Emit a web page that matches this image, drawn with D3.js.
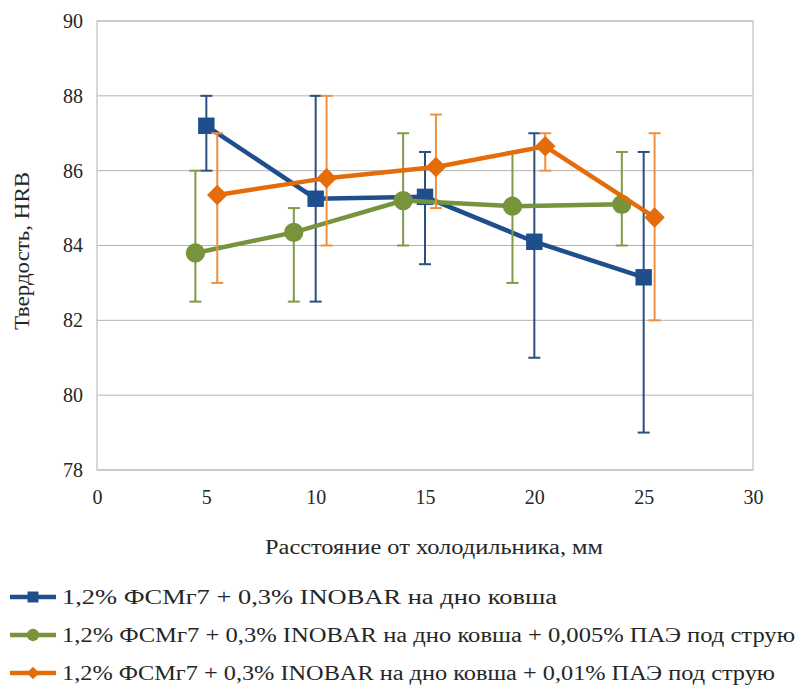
<!DOCTYPE html>
<html>
<head>
<meta charset="utf-8">
<script src="https://cdn.jsdelivr.net/npm/d3@7"></script>
<style>
  body { margin: 0; background: #fff; }
</style>
</head>
<body>
<svg id="chart" width="800" height="687" font-family="Liberation Serif"></svg>
<script>
// series data: x position, value, error bar low / high
const blueX = [5, 10, 15, 20, 25]
const blueY = [87.2, 85.25, 85.3, 84.1, 83.15]
const blueLo = [86, 82.5, 83.5, 81, 79]
const blueHi = [88, 88, 86.5, 87, 86.5]

const greenX = [4.5, 9, 14, 19, 24]
const greenY = [83.8, 84.35, 85.2, 85.05, 85.1]
const greenLo = [82.5, 82.5, 84, 83, 84]
const greenHi = [86, 85, 87, 86.5, 86.5]

const orangeX = [5.5, 10.5, 15.5, 20.5, 25.5]
const orangeY = [85.35, 85.8, 86.1, 86.65, 84.75]
const orangeLo = [83, 84, 85, 86, 82]
const orangeHi = [87, 88, 87.5, 87, 87]

const xTicks = [0, 5, 10, 15, 20, 25, 30]
const yTicks = [78, 80, 82, 84, 86, 88, 90]

const seriesNames = [
  "1,2% ФСМг7 + 0,3% INOBAR на дно ковша",
  "1,2% ФСМг7 + 0,3% INOBAR на дно ковша + 0,005% ПАЭ под струю",
  "1,2% ФСМг7 + 0,3% INOBAR на дно ковша + 0,01% ПАЭ под струю"
]
const xTitle = "Расстояние от холодильника, мм"
const yTitle = "Твердость, HRB"

const serif = "Liberation Serif"
const textColor = "#262626"
const plot = { left: 97, top: 21, right: 753, bottom: 470 }
//widths the texts take in the picture
const legendTextWidth = [495, 733, 713]

const svg = d3.select("#chart")

const xScale = d3.scaleLinear().domain([0, 30]).range([plot.left, plot.right])
const yScale = d3.scaleLinear().domain([78, 90]).range([plot.bottom, plot.top])

//grid lines
svg.append("g").selectAll("line").data(yTicks).join("line")
  .attr("x1", plot.left).attr("x2", plot.right)
  .attr("y1", d => yScale(d)).attr("y2", d => yScale(d))
  .attr("stroke", "#b3b3b3").attr("stroke-width", 1)

//plot border
svg.append("rect")
  .attr("x", plot.left).attr("y", plot.top)
  .attr("width", plot.right - plot.left).attr("height", plot.bottom - plot.top)
  .attr("fill", "none").attr("stroke", "#c4c4c4").attr("stroke-width", 1.3)

//axis labels
const yAxis = d3.axisLeft(yScale).tickValues(yTicks).tickSize(0).tickPadding(14)
const yg = svg.append("g").attr("transform", "translate(" + plot.left + ",0)").call(yAxis)
  .attr("font-family", serif).attr("font-size", 20)
yg.select(".domain").remove()
yg.selectAll("text").attr("fill", textColor)

const xAxis = d3.axisBottom(xScale).tickValues(xTicks).tickSize(0).tickPadding(20)
const xg = svg.append("g").attr("transform", "translate(0," + plot.bottom + ")").call(xAxis)
  .attr("font-family", serif).attr("font-size", 20)
xg.select(".domain").remove()
xg.selectAll("text").attr("fill", textColor)

//axis titles
svg.append("text")
  .attr("x", 265).attr("y", 554)
  .attr("font-size", 20)
  .attr("textLength", 338).attr("lengthAdjust", "spacingAndGlyphs")
  .attr("fill", textColor)
  .text(xTitle)

svg.append("text")
  .attr("transform", "translate(29,330) rotate(-90)")
  .attr("font-size", 20)
  .attr("textLength", 158).attr("lengthAdjust", "spacingAndGlyphs")
  .attr("fill", textColor)
  .text(yTitle)

const series = [
  { id: 0, xs: blueX, ys: blueY, lo: blueLo, hi: blueHi, color: "#1f4e8c", err: "#2a4f80", shape: d3.symbolSquare, size: 270, rot: 0 },
  { id: 1, xs: greenX, ys: greenY, lo: greenLo, hi: greenHi, color: "#77933c", err: "#7f9a48", shape: d3.symbolCircle, size: 290, rot: 0 },
  { id: 2, xs: orangeX, ys: orangeY, lo: orangeLo, hi: orangeHi, color: "#e46c0a", err: "#f0903e", shape: d3.symbolSquare, size: 210, rot: 45 }
]

const line = d3.line().x(d => xScale(d.x)).y(d => yScale(d.y))

series.forEach(s => {
  const pts = s.xs.map((x, i) => ({ x: x, y: s.ys[i], lo: s.lo[i], hi: s.hi[i] }))
  const g = svg.append("g").attr("id", "series_" + s.id)

  //error bars
  const eb = g.append("g")
  pts.forEach(p => {
    const x = xScale(p.x)
    eb.append("line").attr("x1", x).attr("x2", x)
      .attr("y1", yScale(p.lo)).attr("y2", yScale(p.hi))
      .attr("stroke", s.err).attr("stroke-width", 2)
    ;[p.lo, p.hi].forEach(v => {
      eb.append("line").attr("x1", x - 6).attr("x2", x + 6)
        .attr("y1", yScale(v)).attr("y2", yScale(v))
        .attr("stroke", s.err).attr("stroke-width", 2)
    })
  })

  g.append("path").datum(pts)
    .attr("d", line)
    .attr("fill", "none")
    .attr("stroke", s.color)
    .attr("stroke-width", 4.5)

  g.selectAll(".marker").data(pts).join("path")
    .attr("class", "marker")
    .attr("transform", d => "translate(" + xScale(d.x) + "," + yScale(d.y) + ") rotate(" + s.rot + ")")
    .attr("d", d3.symbol().type(s.shape).size(s.size))
    .attr("fill", s.color)
})

//legend
const legendY = [597, 635, 673]
series.forEach((s, i) => {
  const lg = svg.append("g").attr("transform", "translate(0," + legendY[i] + ")")
  lg.append("line").attr("x1", 10).attr("x2", 56).attr("y1", 0).attr("y2", 0)
    .attr("stroke", s.color).attr("stroke-width", 4.5)
  lg.append("path").attr("transform", "translate(33,0) rotate(" + s.rot + ")")
    .attr("d", d3.symbol().type(s.shape).size(s.id === 2 ? 80 : 120))
    .attr("fill", s.color)
  lg.append("text").attr("x", 62).attr("y", 7)
    .attr("font-size", 20)
    .attr("textLength", legendTextWidth[i]).attr("lengthAdjust", "spacingAndGlyphs")
    .attr("fill", textColor)
    .text(seriesNames[i])
})
</script>
</body>
</html>
